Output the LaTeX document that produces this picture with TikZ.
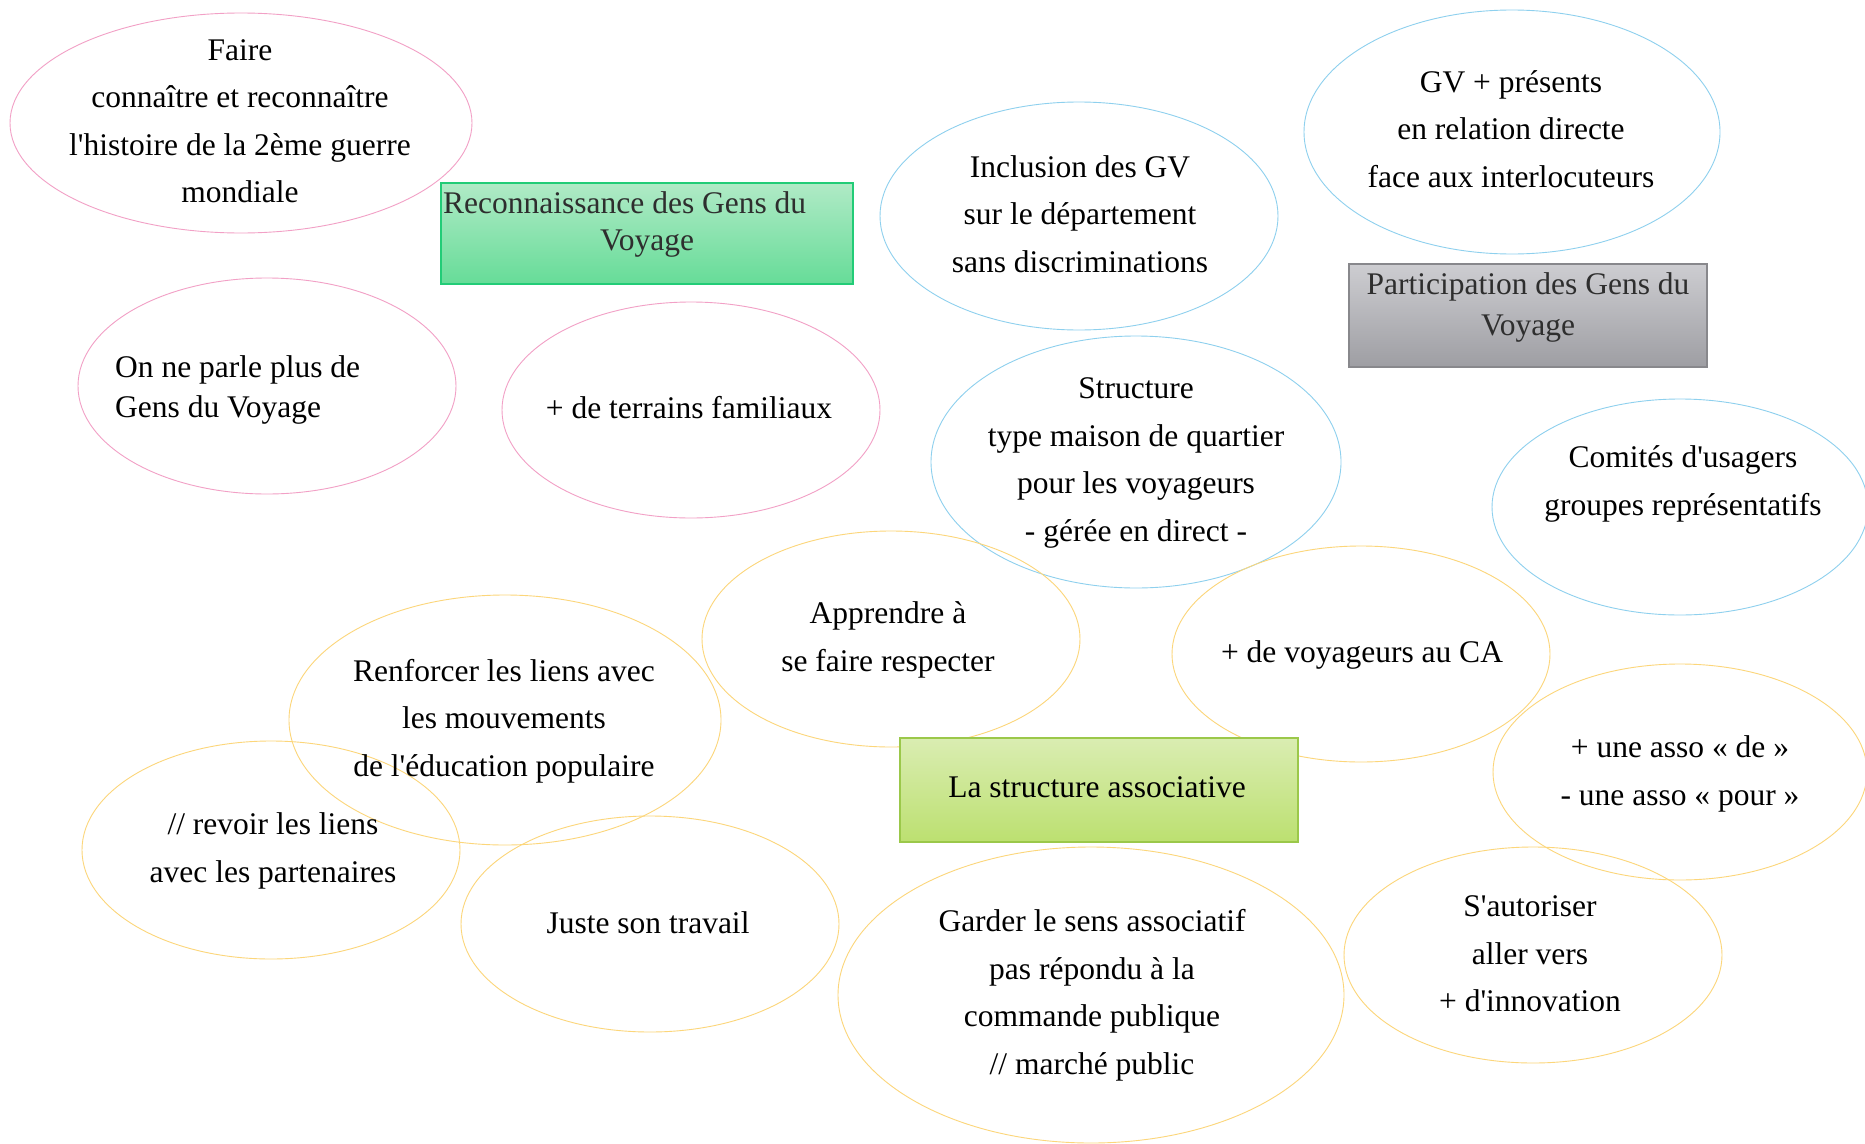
\documentclass[tikz,border=0pt]{standalone}
\usepackage{fontspec}
\setmainfont{Liberation Serif}[Ligatures=TeXOff]
\usetikzlibrary{shapes.geometric}
\definecolor{pinkc}{HTML}{F2A0C6}
\definecolor{bluec}{HTML}{8ED0EE}
\definecolor{yelc}{HTML}{FCD67A}
\tikzset{
  ell/.style={shape=ellipse, draw, line width=0.9pt, inner sep=0pt},
  pinkell/.style={ell, draw=pinkc},
  blueell/.style={ell, draw=bluec},
  yelell/.style={ell, draw=yelc},
  txt/.style={align=center, inner sep=0pt, text=black, font=\fontsize{31.5}{47.5}\selectfont},
  btxt/.style={inner sep=0pt, text=black!82, font=\fontsize{31.5}{34}\selectfont},
  boxbase/.style={rectangle, inner sep=0pt, line width=1.3pt},
}
\begin{document}
\begin{tikzpicture}[x=1pt,y=-1pt]
\useasboundingbox[fill=white] (0,0) rectangle (1865,1143);

% ellipses
\node[pinkell, minimum width=462pt, minimum height=220pt] (e1) at (241,123) {};
\node[pinkell, minimum width=378pt, minimum height=216pt] (e2) at (267,386) {};
\node[pinkell, minimum width=378pt, minimum height=216pt] (e3) at (691,410) {};
\node[blueell, minimum width=398pt, minimum height=228pt] (e4) at (1079,216) {};
\node[blueell, minimum width=416pt, minimum height=244pt] (e5) at (1512,132) {};
\node[blueell, minimum width=410pt, minimum height=252pt] (e6) at (1136,462) {};
\node[blueell, minimum width=376pt, minimum height=216pt] (e7) at (1680,507) {};
\node[yelell, minimum width=378pt, minimum height=216pt] (e8) at (891,639) {};
\node[yelell, minimum width=432pt, minimum height=250pt] (e9) at (505,720) {};
\node[yelell, minimum width=378pt, minimum height=216pt] (e10) at (1361,654) {};
\node[yelell, minimum width=374pt, minimum height=216pt] (e11) at (1680,772) {};
\node[yelell, minimum width=378pt, minimum height=218pt] (e12) at (271,850) {};
\node[yelell, minimum width=378pt, minimum height=216pt] (e13) at (650,924) {};
\node[yelell, minimum width=506pt, minimum height=296pt] (e14) at (1091,995) {};
\node[yelell, minimum width=378pt, minimum height=216pt] (e15) at (1533,955) {};

% ellipse texts
\node[txt] (t1) at (240,121) {Faire\\connaître et reconnaître\\l'histoire de la 2ème guerre\\mondiale};
\node[txt, align=left, anchor=west, font=\fontsize{31.5}{40}\selectfont] (t2) at (115,390) {On ne parle plus de\\Gens du Voyage};
\node[txt] (t3) at (689,408) {+ de terrains familiaux};
\node[txt] (t4) at (1080,214) {Inclusion des GV\\sur le département\\sans discriminations};
\node[txt] (t5) at (1511,129) {GV + présents\\en relation directe\\face aux interlocuteurs};
\node[txt] (t6) at (1136,463) {Structure\\type maison de quartier\\pour les voyageurs\\- gérée en direct -};
\node[txt] (t7) at (1683,484) {Comités d'usagers\\groupes représentatifs};
\node[txt] (t8) at (888,640) {Apprendre à\\se faire respecter};
\node[txt] (t9) at (504,721) {Renforcer les liens avec\\les mouvements\\de l'éducation populaire};
\node[txt] (t10) at (1362,655) {+ de voyageurs au CA};
\node[txt] (t11) at (1680,774) {+ une asso « de »\\- une asso « pour »};
\node[txt] (t12) at (273,851) {// revoir les liens\\avec les partenaires};
\node[txt] (t13) at (648,923) {Juste son travail};
\node[txt] (t14) at (1092,995) {Garder le sens associatif\\pas répondu à la\\commande publique\\// marché public};
\node[txt] (t15) at (1530,954) {S'autoriser\\aller vers\\+ d'innovation};

% boxes
\node[boxbase, draw={rgb,255:red,34;green,204;blue,119}, top color={rgb,255:red,176;green,234;blue,198}, bottom color={rgb,255:red,102;green,220;blue,152}, minimum width=412pt, minimum height=101pt] (b1) at (647,233.5) {};
\node[btxt, anchor=base west] (b1a) at (443,213) {Reconnaissance des Gens du};
\node[btxt, anchor=base] (b1b) at (647,250) {Voyage};

\node[boxbase, draw={rgb,255:red,136;green,136;blue,140}, top color={rgb,255:red,205;green,205;blue,209}, bottom color={rgb,255:red,158;green,158;blue,163}, minimum width=358pt, minimum height=103pt] (b2) at (1528,315.5) {};
\node[btxt, anchor=base] (b2a) at (1528,294) {Participation des Gens du};
\node[btxt, anchor=base] (b2b) at (1528,335) {Voyage};

\node[boxbase, draw={rgb,255:red,155;green,200;blue,74}, top color={rgb,255:red,218;green,237;blue,178}, bottom color={rgb,255:red,188;green,224;blue,112}, minimum width=398pt, minimum height=104pt] (b3) at (1099,790) {};
\node[btxt, anchor=base, text=black] (b3a) at (1097,797) {La structure associative};
\end{tikzpicture}
\end{document}
